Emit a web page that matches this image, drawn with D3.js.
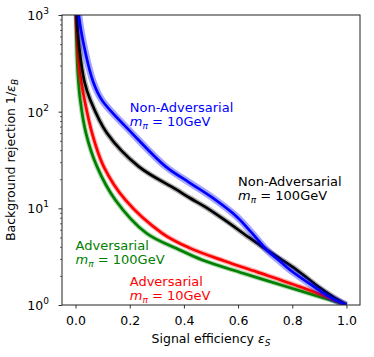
<!DOCTYPE html>
<html>
<head>
<meta charset="utf-8">
<script src="https://cdn.jsdelivr.net/npm/d3@7"></script>
<style>
  body { margin: 0; background: #fff; }
  text { font-family: "DejaVu Sans", sans-serif; }
</style>
</head>
<body>
<script>
// signal efficiency / background rejection
var effBlue = [0.008, 0.012, 0.034, 0.066, 0.097, 0.209, 0.333, 0.42, 0.5, 0.595, 0.65, 0.706, 0.75, 0.792, 0.879, 0.94, 1.0];
var rejBlue = [1500, 1000, 440, 200, 132, 59.7, 27, 18.5, 13.2, 8.2, 5.6, 3.71, 2.9, 2.3, 1.55, 1.2, 1];

var effBlack = [0.002, 0.004, 0.014, 0.033, 0.0545, 0.1164, 0.2336, 0.3697, 0.422, 0.48, 0.55, 0.64, 0.706, 0.76, 0.817, 0.896, 0.95, 1.0];
var rejBlack = [1500, 1000, 452, 204, 132, 59.7, 27, 15.8, 12.8, 10.3, 7.6, 5.0, 3.71, 2.95, 2.3, 1.55, 1.22, 1];

var effRed = [0.002, 0.003, 0.006, 0.010, 0.016, 0.0333, 0.0612, 0.104, 0.184, 0.32, 0.42, 0.55, 0.669, 0.829, 0.92, 1.0];
var rejRed = [1500, 1000, 600, 400, 250, 132, 59.7, 27, 12.2, 5.52, 3.9, 2.85, 2.2, 1.546, 1.24, 1];

var effGreen = [0.001, 0.002, 0.004, 0.008, 0.0174, 0.0386, 0.0793, 0.147, 0.262, 0.385, 0.468, 0.619, 0.78, 0.9, 1.0];
var rejGreen = [1500, 1000, 500, 260, 132, 59.7, 27, 12.2, 5.52, 3.71, 2.92, 2.13, 1.546, 1.22, 1];

var xTicks = [0, 0.2, 0.4, 0.6, 0.8, 1.0];
var xTickLabels = ["0.0", "0.2", "0.4", "0.6", "0.8", "1.0"];
var yTicks = [1, 10, 100, 1000];
var yTickExp = ["0", "1", "2", "3"];

var labelTitle = ["Non-Adversarial", "Non-Adversarial", "Adversarial", "Adversarial"];
var labelMass = ["10GeV", "100GeV", "100GeV", "10GeV"];
var labelX = [0.2, 0.6, 0.0, 0.2];
var labelY = [71, 12.2, 2.64, 1.126];

var series = [
  {eff: effGreen, rej: rejGreen, color: "#008000", band: 5, bandOp: 0.3},
  {eff: effRed, rej: rejRed, color: "#ff0000", band: 5, bandOp: 0.3},
  {eff: effBlack, rej: rejBlack, color: "#000000", band: 5.5, bandOp: 0.3},
  {eff: effBlue, rej: rejBlue, color: "#0000ff", band: 7, bandOp: 0.35}
];
var labelColor = ["#0000ff", "#000000", "#008000", "#ff0000"];

var margin = {top: 15, right: 14, bottom: 52, left: 62},
    width = 374 - margin.left - margin.right,
    height = 357 - margin.top - margin.bottom;

var svg = d3.select("body").append("svg")
    .attr("width", 374)
    .attr("height", 357);

var g = svg.append("g")
    .attr("transform", "translate(" + margin.left + "," + margin.top + ")");

var x = d3.scaleLinear().domain([-0.05, 1.05]).range([0, width]);
var y = d3.scaleLog().domain([1, 1000]).range([height, 0]);

g.append("clipPath").attr("id", "clip")
  .append("rect").attr("width", width).attr("height", height);

var line = d3.line()
    .x(function(d) { return x(d[0]); })
    .y(function(d) { return y(d[1]); })
    .curve(d3.curveCatmullRom.alpha(0.5));

var plot = g.append("g").attr("clip-path", "url(#clip)");

series.forEach(function(s) {
  var pts = s.eff.map(function(e, i) { return [e, s.rej[i]]; });
  plot.append("path")
      .attr("d", line(pts))
      .attr("fill", "none")
      .attr("stroke", s.color)
      .attr("stroke-opacity", s.bandOp)
      .attr("stroke-width", s.band)
      .attr("stroke-linejoin", "round");
  plot.append("path")
      .attr("d", line(pts))
      .attr("fill", "none")
      .attr("stroke", s.color)
      .attr("stroke-width", 2.7)
      .attr("stroke-linejoin", "round");
});

// axes
var xAxis = g.append("g")
    .attr("transform", "translate(0," + height + ")")
    .call(d3.axisBottom(x).tickValues(xTicks).tickSize(3.5).tickFormat(function(d, i) { return xTickLabels[i]; }));
xAxis.select(".domain").remove();
xAxis.selectAll("text").attr("font-size", 12.5).attr("fill", "#000").attr("dy", "1.05em")
    .style("font-family", "DejaVu Sans");
xAxis.selectAll("line").attr("stroke", "#000").attr("stroke-width", 0.8);

var minor = [];
for (var k = 1; k < 1000; k *= 10) {
  for (var m = 2; m <= 9; m++) minor.push(k * m);
}
var yMinor = g.append("g")
    .call(d3.axisLeft(y).tickValues(minor).tickSize(2).tickFormat(""));
yMinor.select(".domain").remove();
yMinor.selectAll("line").attr("stroke", "#000").attr("stroke-width", 0.6);

var yAxis = g.append("g")
    .call(d3.axisLeft(y).tickValues(yTicks).tickSize(3.5).tickFormat(""));
yAxis.select(".domain").remove();
yAxis.selectAll("line").attr("stroke", "#000").attr("stroke-width", 0.8);

yTicks.forEach(function(t, i) {
  var lab = g.append("text")
      .attr("x", -13)
      .attr("y", y(t) + 5)
      .attr("text-anchor", "end")
      .attr("font-size", 12.5);
  lab.append("tspan").text("10");
  lab.append("tspan").attr("font-size", 9).attr("dy", -6).text(yTickExp[i]);
});

g.append("rect")
    .attr("width", width)
    .attr("height", height)
    .attr("fill", "none")
    .attr("stroke", "#222")
    .attr("stroke-width", 1);

// axis titles
var xt = g.append("text")
    .attr("x", width / 2)
    .attr("y", height + 38)
    .attr("text-anchor", "middle")
    .attr("font-size", 12.5);
xt.append("tspan").text("Signal efficiency ");
xt.append("tspan").attr("font-style", "italic").text("ε");
xt.append("tspan").attr("font-style", "italic").attr("font-size", 9).attr("dy", 3).text("S");

var yt = g.append("text")
    .attr("transform", "translate(" + (-47) + "," + (height / 2) + ") rotate(-90)")
    .attr("text-anchor", "middle")
    .attr("font-size", 12.5);
yt.append("tspan").text("Background rejection 1/");
yt.append("tspan").attr("font-style", "italic").text("ε");
yt.append("tspan").attr("font-style", "italic").attr("font-size", 9).attr("dy", 3).text("B");

// curve labels
labelTitle.forEach(function(t, i) {
  var px = x(labelX[i]), py = y(labelY[i]);
  g.append("text")
      .attr("x", px).attr("y", py - 14.3)
      .attr("font-size", 13)
      .attr("fill", labelColor[i])
      .text(t);
  var l2 = g.append("text")
      .attr("x", px).attr("y", py)
      .attr("font-size", 13)
      .attr("fill", labelColor[i]);
  l2.append("tspan").attr("font-style", "italic").text("m");
  l2.append("tspan").attr("font-style", "italic").attr("font-size", 9).attr("dy", 3).text("π");
  l2.append("tspan").attr("dy", -3).text(" = " + labelMass[i]);
});
</script>
</body>
</html>
